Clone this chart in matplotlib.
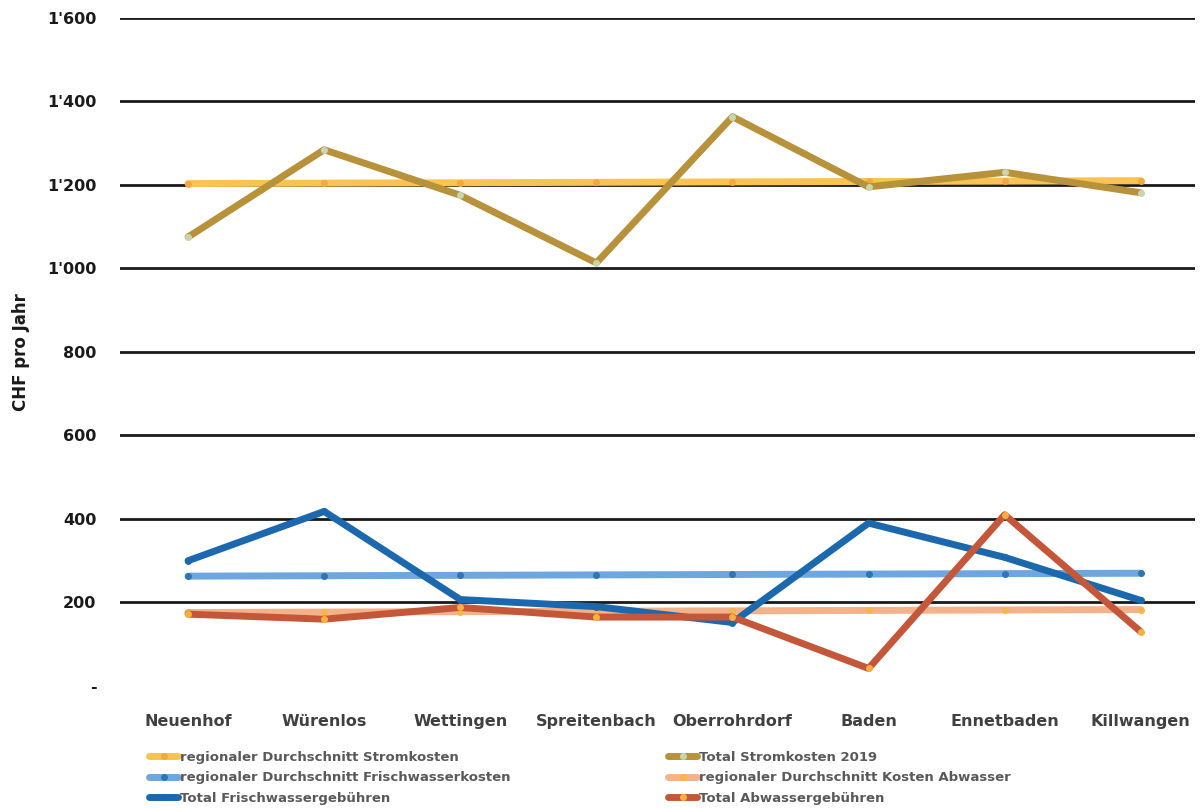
import matplotlib.pyplot as plt
import numpy as np

gemeinden = ['Neuenhof', 'Würenlos', 'Wettingen', 'Spreitenbach',
             'Oberrohrdorf', 'Baden', 'Ennetbaden', 'Killwangen']

strom_regional = [1203, 1204, 1205, 1206, 1207, 1208, 1209, 1210]
strom_total = [1075, 1284, 1175, 1013, 1363, 1195, 1230, 1181]
frisch_regional = [263, 264, 265, 266, 267, 268, 269, 270]
frisch_total = [300, 418, 207, 190, 152, 390, 308, 205]
abw_regional = [176, 177, 178, 179, 180, 181, 182, 183]
abw_total = [172, 160, 188, 165, 165, 42, 410, 130]

y_ticks = [0, 200, 400, 600, 800, 1000, 1200, 1400, 1600]
y_labels = ['-', '200', '400', '600', '800', "1'000", "1'200", "1'400", "1'600"]

fig = plt.figure(figsize=(12, 8.08), dpi=100)
ax = fig.add_axes([0.1, 0.151, 0.896, 0.827])

x = np.arange(len(gemeinden))

for y in y_ticks[1:]:
    ax.axhline(y, color='#1a1a1a', lw=2, zorder=1)

series = [
    (strom_regional, '#F9C352', '#F3A93C', 'regionaler Durchschnitt Stromkosten'),
    (strom_total, '#B8913B', '#C8D6B0', 'Total Stromkosten 2019'),
    (frisch_regional, '#6EA6E0', '#2E75B6', 'regionaler Durchschnitt Frischwasserkosten'),
    (abw_regional, '#F4B28A', '#F6B64B', 'regionaler Durchschnitt Kosten Abwasser'),
    (frisch_total, '#1C68AE', '#1C68AE', 'Total Frischwassergebühren'),
    (abw_total, '#C4573A', '#F6B03C', 'Total Abwassergebühren'),
]

handles = {}
for i, (vals, col, mcol, lab) in enumerate(series):
    h, = ax.plot(x, vals, color=col, lw=5, marker='o', ms=4,
                 mfc=mcol, mec=mcol, label=lab, zorder=2 + i,
                 solid_capstyle='round', solid_joinstyle='round')
    handles[lab] = h

ax.set_xlim(-0.5, 7.4)
ax.set_ylim(0, 1600)
ax.set_yticks(y_ticks)
ax.set_yticklabels(y_labels, fontsize=11.5, fontweight='bold', color='#1a1a1a')
ax.set_xticks(x)
ax.set_xticklabels(gemeinden, fontsize=11.5, fontweight='bold', color='#404040')
ax.tick_params(length=0, axis='y', pad=17)
ax.tick_params(length=0, axis='x', pad=20)
for s in ax.spines.values():
    s.set_visible(False)

ax.set_ylabel('CHF pro Jahr', fontsize=12, fontweight='bold', color='#1a1a1a', labelpad=12)

order = ['regionaler Durchschnitt Stromkosten', 'regionaler Durchschnitt Frischwasserkosten',
         'Total Frischwassergebühren', 'Total Stromkosten 2019',
         'regionaler Durchschnitt Kosten Abwasser', 'Total Abwassergebühren']
leg = fig.legend([handles[k] for k in order], order, ncol=2, loc='upper left',
                 bbox_to_anchor=(0.12, 0.077), frameon=False, fontsize=9.5,
                 handlelength=2.2, handletextpad=0.1, columnspacing=12,
                 labelspacing=0.55, borderaxespad=0)
for t in leg.get_texts():
    t.set_color('#595959')
    t.set_fontweight('bold')

fig.savefig('out.png', dpi=100)
